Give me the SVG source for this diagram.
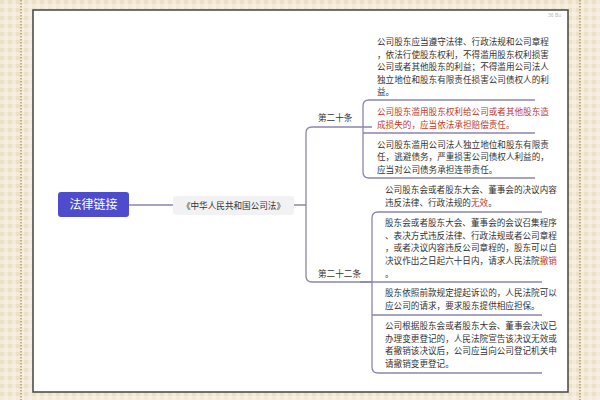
<svg xmlns="http://www.w3.org/2000/svg" width="600" height="400" viewBox="0 0 600 400">
<defs>
<pattern id="chk" width="8" height="8" patternUnits="userSpaceOnUse"><rect width="8" height="8" fill="#f3ead8"/><rect width="4" height="4" fill="#ece0c8"/><rect x="4" y="4" width="4" height="4" fill="#f7f0e2"/></pattern>
</defs>
<style>
.t{font-family:"Noto Sans CJK SC","Liberation Sans",sans-serif;font-size:8.6px;fill:#333}
.r{fill:#c0392b}
.c{fill:none;stroke:#8a86b0;stroke-width:1.3}
.u{fill:none;stroke:#8a86b0;stroke-width:1}
</style>
<rect width="600" height="400" fill="url(#chk)"/>
<line x1="21" y1="0" x2="21" y2="400" stroke="#b59a60" stroke-width="1.5" stroke-dasharray="1.5 1.5"/>
<line x1="580" y1="0" x2="580" y2="400" stroke="#b59a60" stroke-width="1.5" stroke-dasharray="1.5 1.5"/>
<rect x="33" y="10" width="535" height="382" fill="#fff" stroke="#444" stroke-width="1.5"/>
<text x="548" y="17" font-family="Liberation Sans,sans-serif" font-size="5" fill="#bbb">36 Bu</text>
<g id="connectors">
<path class="c" d="M129 205H173M294 205H306M372 127H312Q306 127 306 133V276Q306 282 312 282H372"/>
<path class="c" d="M535 100H369Q363 100 363 106V172Q363 178 369 178H535M363 133H535"/>
<path class="c" d="M542 212H378Q372 212 372 218V367Q372 373 378 373H542M360 282H542M372 315H542"/>
</g>
<g id="root"><rect x="58" y="192" width="71" height="25" rx="3" fill="#4e4ccc"/><text x="93.5" y="209" text-anchor="middle" font-family="Noto Sans CJK SC,sans-serif" font-size="12" fill="#fff">法律链接</text></g>
<g id="law"><rect x="173" y="196" width="121" height="19" rx="3" fill="#f2f2f4"/><text x="233.5" y="208.5" text-anchor="middle" class="t">《中华人民共和国公司法》</text></g>
<g id="a20"><text x="318" y="121" class="t">第二十条</text></g>
<g id="a22"><text x="318" y="277" class="t">第二十二条</text></g>
<g id="i1"><text class="t"><tspan x="377" y="45">公司股东应当遵守法律、行政法规和公司章程</tspan><tspan x="377" y="58">，依法行使股东权利，不得滥用股东权利损害</tspan><tspan x="377" y="70">公司或者其他股东的利益；不得滥用公司法人</tspan><tspan x="377" y="83">独立地位和股东有限责任损害公司债权人的利</tspan><tspan x="377" y="95">益。</tspan></text></g>
<g id="i2"><text class="t r"><tspan x="377" y="115">公司股东滥用股东权利给公司或者其他股东造</tspan><tspan x="377" y="128">成损失的，应当依法承担赔偿责任。</tspan></text></g>
<g id="i3"><text class="t"><tspan x="377" y="148">公司股东滥用公司法人独立地位和股东有限责</tspan><tspan x="377" y="160">任，逃避债务，严重损害公司债权人利益的，</tspan><tspan x="377" y="173">应当对公司债务承担连带责任。</tspan></text></g>
<g id="iA"><text class="t"><tspan x="385" y="193">公司股东会或者股东大会、董事会的决议内容</tspan><tspan x="385" y="206">违反法律、行政法规的<tspan class="r">无效</tspan>。</tspan></text></g>
<g id="iB"><text class="t"><tspan x="385" y="226">股东会或者股东大会、董事会的会议召集程序</tspan><tspan x="385" y="239">、表决方式违反法律、行政法规或者公司章程</tspan><tspan x="385" y="251">，或者决议内容违反公司章程的，股东可以自</tspan><tspan x="385" y="264">决议作出之日起六十日内，请求人民法院<tspan class="r">撤销</tspan></tspan><tspan x="385" y="277">。</tspan></text></g>
<g id="iC"><text class="t"><tspan x="385" y="296">股东依照前款规定提起诉讼的，人民法院可以</tspan><tspan x="385" y="309">应公司的请求，要求股东提供相应担保。</tspan></text></g>
<g id="iD"><text class="t"><tspan x="385" y="329">公司根据股东会或者股东大会、董事会决议已</tspan><tspan x="385" y="342">办理变更登记的，人民法院宣告该决议无效或</tspan><tspan x="385" y="354">者撤销该决议后，公司应当向公司登记机关申</tspan><tspan x="385" y="367">请撤销变更登记。</tspan></text></g>
</svg>
